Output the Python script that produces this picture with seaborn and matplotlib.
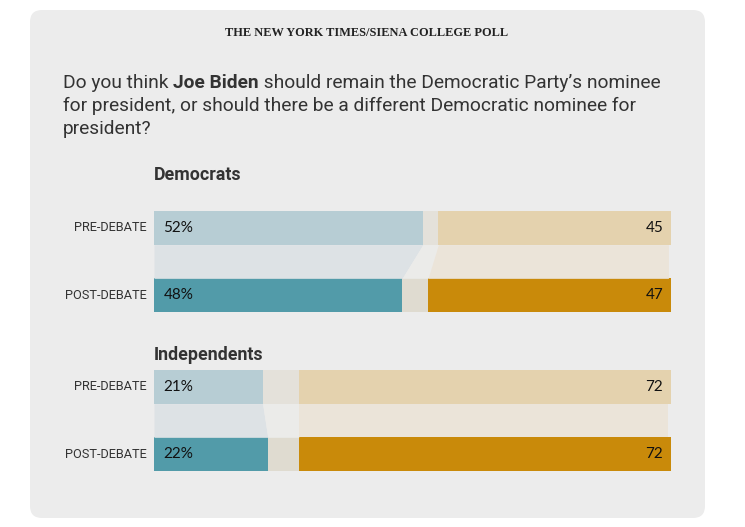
import numpy as np
import pandas as pd
import matplotlib
matplotlib.use('Agg')
import matplotlib.pyplot as plt
from matplotlib.patches import FancyBboxPatch
import seaborn as sns

groups = ['Democrats', 'Independents']
periods = ['PRE-DEBATE', 'POST-DEBATE']
biden = [[52, 48], [21, 22]]
unsure = [[3, 5], [7, 6]]
other = [[45, 47], [72, 72]]

blue = {'PRE-DEBATE': '#b7cdd4', 'POST-DEBATE': '#529ba9'}
grey = {'PRE-DEBATE': '#e4e1da', 'POST-DEBATE': '#dfdbd0'}
orange = {'PRE-DEBATE': '#e4d2ae', 'POST-DEBATE': '#c98a0a'}
band_blue = '#dde2e5'
band_grey = '#ebebe9'
band_orange = '#ebe4d9'

sns.set_theme(style='white')
plt.rcParams['font.family'] = ['Roboto', 'DejaVu Sans']

W, H = 745, 527
fig = plt.figure(figsize=(W / 100, H / 100), dpi=100)
fig.patch.set_facecolor('white')

# background card in pixel coordinates
bg = fig.add_axes([0, 0, 1, 1])
bg.set_xlim(0, W)
bg.set_ylim(H, 0)
bg.axis('off')
bg.add_patch(FancyBboxPatch((30 + 12, 10 + 12), 675 - 24, 508 - 24,
                            boxstyle='round,pad=12', fc='#ececec', ec='none'))

bg.text(367, 33, 'THE NEW YORK TIMES/SIENA COLLEGE POLL', ha='center', va='center',
        family=['Liberation Serif'], fontsize=8.9, fontweight='bold', color='#222222')

# question with bold name
qsize = 13.8
renderer = fig.canvas.get_renderer()
t1 = bg.text(63, 88, 'Do you think ', fontsize=qsize, color='#333333', va='baseline')
bb = t1.get_window_extent(renderer)
t2 = bg.text(bb.x1, H - 88, 'Joe Biden', fontsize=qsize, color='#333333', fontweight='bold',
             va='baseline', transform=None)
bb2 = t2.get_window_extent(renderer)
bg.text(bb2.x1, H - 88, ' should remain the Democratic Party\u2019s nominee', fontsize=qsize,
        color='#333333', va='baseline', transform=None)
bg.text(63, 111, 'for president, or should there be a different Democratic nominee for',
        fontsize=qsize, color='#333333', va='baseline')
bg.text(63, 134, 'president?', fontsize=qsize, color='#333333', va='baseline')

tops = [211, 370]
title_y = [-0.785, -0.47]
for gi, g in enumerate(groups):
    top = tops[gi]
    ax = fig.add_axes([154 / W, (H - top - 101) / H, 517 / W, 101 / H])
    df = pd.DataFrame({'period': periods, 'biden': biden[gi],
                       'unsure': unsure[gi], 'other': other[gi]})
    df['c1'] = df['biden']
    df['c2'] = df['biden'] + df['unsure']
    df['c3'] = df['c2'] + df['other']
    for col, pal in [('c3', orange), ('c2', grey), ('c1', blue)]:
        sns.barplot(data=df, x=col, y='period', hue='period', palette=pal, width=0.5,
                    orient='h', legend=False, ax=ax, saturation=1, linewidth=0)
    yy = [0.25, 0.75]
    ax.fill_betweenx(yy, [0, 0], df['c1'].values, color=band_blue, lw=0)
    ax.fill_betweenx(yy, df['c1'].values, df['c2'].values, color=band_grey, lw=0)
    ax.fill_betweenx(yy, df['c2'].values, df['c3'].values - 0.5, color=band_orange, lw=0)
    ax.set_xlim(0, 100)
    ax.set_ylim(1.25, -0.25)
    ax.set_facecolor('none')
    ax.axis('off')
    for i in range(2):
        ax.text(1.8, i, f'{df["biden"][i]}%', ha='left', va='center', fontsize=11,
                family=['Lato'], color='#111111')
        ax.text(98.5, i, f'{df["other"][i]}', ha='right', va='center', fontsize=11,
                family=['Lato'], color='#111111')
        ax.text(-1.4, i, periods[i], ha='right', va='center', fontsize=9.2, color='#333333')
    ax.text(0, title_y[gi], g, ha='left', va='center', fontsize=12.8,
            fontweight='bold', color='#333333')

fig.savefig('out.png', dpi=100, facecolor='white')
